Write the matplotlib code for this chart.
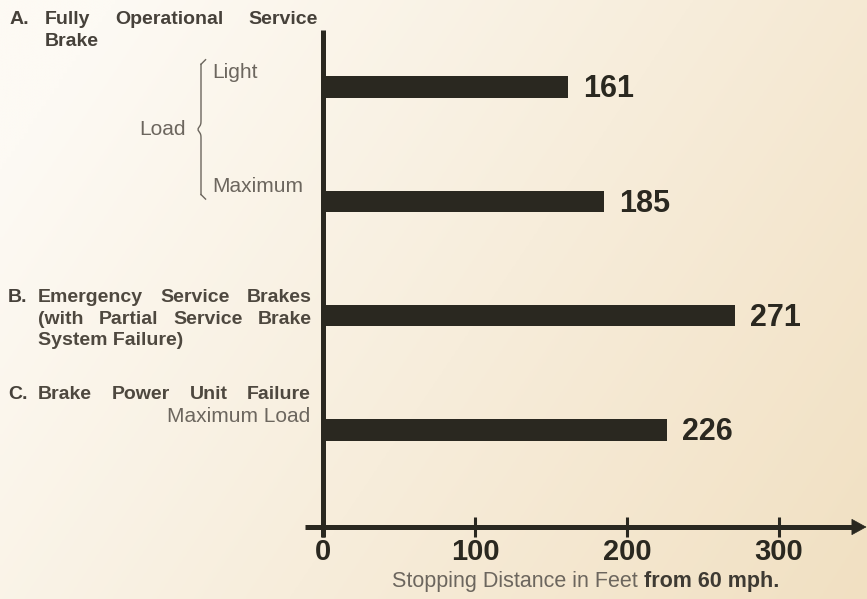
import numpy as np
import matplotlib
matplotlib.use("Agg")
import matplotlib.pyplot as plt

# stopping distances (feet from 60 mph), top to bottom
distances = [161, 185, 271, 226]
positions = [0, 1, 2, 3]
xticks = [0, 100, 200, 300]

narrow = ["Liberation Sans Narrow", "Liberation Sans", "DejaVu Sans"]
sans = ["Liberation Sans", "DejaVu Sans"]
dark = "#2a2820"
label_bold = "#4e483f"
label_light = "#6c665e"

W, H = 867, 599
fig = plt.figure(figsize=(W / 100, H / 100), dpi=100)

# paper background: light at left, beige towards the right/bottom
bg = fig.add_axes([0, 0, 1, 1], zorder=-10)
gx, gy = np.meshgrid(np.linspace(0, 1, 200), np.linspace(0, 1, 200))
t = np.clip(0.75 * gx + 0.35 * gy - 0.1, 0, 1)
c0 = np.array([0xfd, 0xfa, 0xf4]) / 255
c1 = np.array([0xf1, 0xe0, 0xc2]) / 255
img = c0 + (c1 - c0) * t[..., None]
bg.imshow(img, aspect="auto", extent=[0, 1, 0, 1], origin="upper")
bg.axis("off")

# axes placed in pixels: y-axis at x=323, x-axis at y=527, top at y=30
x0, x1, ytop, ybot = 323, 865, 30, 527
ax = fig.add_axes([x0 / W, (H - ybot) / H, (x1 - x0) / W, (ybot - ytop) / H])
ax.set_facecolor("none")
pxu = 1.52  # pixels per foot
ax.set_xlim(0, (x1 - x0) / pxu)
ax.set_ylim(3.85, -0.5)

ax.barh(positions, distances, height=0.19, color=dark, zorder=3)
for p, d in zip(positions, distances):
    ax.text(d + 10, p + 0.02, str(d), va="center", ha="left",
            fontsize=22, fontweight="bold", family=narrow, color=dark)

for s in ax.spines.values():
    s.set_visible(False)

# axis lines
ax.plot([0, 0], [-0.5, 3.94], color=dark, lw=3.6, clip_on=False, zorder=4,
        solid_capstyle="butt")
ax.plot([-12, ax.get_xlim()[1] - 8], [3.85, 3.85], color=dark, lw=3.6,
        clip_on=False, zorder=4, solid_capstyle="butt")
ax.annotate("", xy=(ax.get_xlim()[1] + 1, 3.85), xytext=(ax.get_xlim()[1] - 12, 3.85),
            arrowprops=dict(arrowstyle="-|>,head_length=1.0,head_width=0.55",
                            color=dark, lw=0.5, shrinkA=0, shrinkB=0),
            annotation_clip=False)

ax.set_yticks([])
ax.set_xticks(xticks)
ax.set_xticklabels([str(v) for v in xticks], fontsize=21, fontweight="bold",
                   family=narrow, color=dark)
ax.tick_params(axis="x", direction="inout", length=14, width=2.2, color=dark, pad=1)

renderer = fig.canvas.get_renderer()


def px(x):
    return (x - x0) / pxu


def width_px(s, **kw):
    tt = fig.text(0, 0, s, **kw)
    w = tt.get_window_extent(renderer).width
    tt.remove()
    return w


def style(bold, color, size):
    return dict(fontsize=size, family=sans, fontweight="bold" if bold else "normal",
                color=color or (label_bold if bold else label_light))


def lab(x, y, s, bold=True, ha="left", color=None, size=14):
    ax.text(px(x), y, s, ha=ha, va="center", clip_on=False, **style(bold, color, size))


def justify(words, xl, xr, y, bold=True, color=None, size=14):
    kw = style(bold, color, size)
    ws = [width_px(w, **kw) for w in words]
    gap = (xr - xl - sum(ws)) / (len(words) - 1)
    x = xl
    for w, wd in zip(words, ws):
        ax.text(px(x), y, w, ha="left", va="center", clip_on=False, **kw)
        x += wd + gap


# x label: regular + bold part
xl_kw = dict(fontsize=15.5, family=sans)
w1 = width_px("Stopping Distance in Feet ", **xl_kw)
w2 = width_px("from 60 mph.", fontweight="bold", **xl_kw)
xs0 = 586 - (w1 + w2) / 2
fig.text(xs0 / W, 1 - 582 / H, "Stopping Distance in Feet ", ha="left", va="center",
         color=label_light, **xl_kw)
fig.text((xs0 + w1) / W, 1 - 582 / H, "from 60 mph.", ha="left", va="center",
         fontweight="bold", color="#3e3a33", **xl_kw)

# category labels: letter at the margin, words justified from the indent
lab(10, -0.59, "A.", color="#46413a")
justify(["Fully", "Operational", "Service"], 45, 318, -0.59, color="#46413a")
lab(45, -0.395, "Brake", color="#46413a")
lab(212, -0.13, "Light", bold=False, size=15)
lab(186, 0.37, "Load", bold=False, ha="right", size=15)
lab(212, 0.87, "Maximum", bold=False, size=15)

# brace in front of Light / Maximum
bx = px(201)
ys = np.linspace(-0.2, 0.94, 80)
xs = bx - 2.0 * np.exp(-((ys - 0.37) / 0.03) ** 2)
ax.plot(xs, ys, color=label_light, lw=1.0, clip_on=False)
ax.plot([bx, bx + 3], [-0.2, -0.24], color=label_light, lw=1.0, clip_on=False)
ax.plot([bx, bx + 3], [0.94, 0.98], color=label_light, lw=1.0, clip_on=False)

lab(8, 1.845, "B.", color="#46413a")
justify(["Emergency", "Service", "Brakes"], 38, 312, 1.845)
justify(["(with", "Partial", "Service", "Brake"], 38, 312, 2.03)
lab(38, 2.22, "System Failure)")
lab(8, 2.69, "C.", color="#46413a")
justify(["Brake", "Power", "Unit", "Failure"], 38, 311, 2.69)
lab(310, 2.88, "Maximum Load", bold=False, ha="right", size=15)

fig.savefig("out.png", dpi=100)
